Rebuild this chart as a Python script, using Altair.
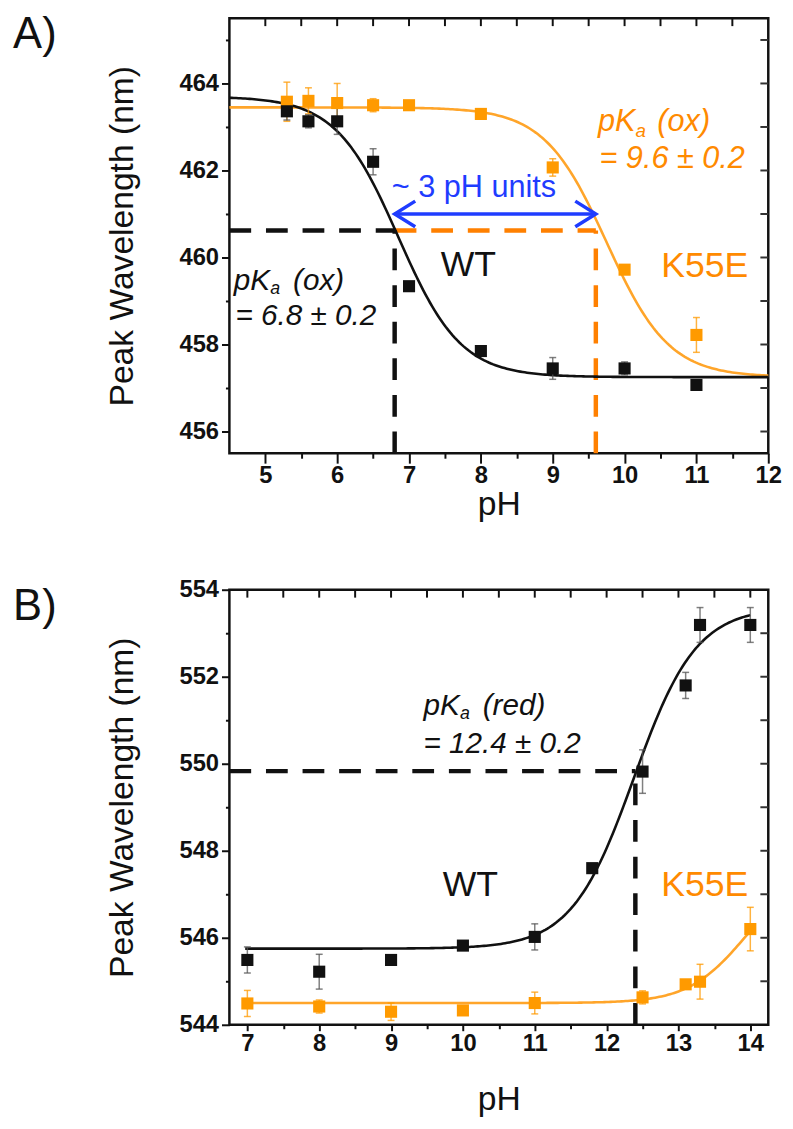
import altair as alt
import numpy as np
import pandas as pd

FONT = "Liberation Sans"
BLACK = "#111111"
ORANGE_PT = "#ff9a00"
ORANGE_LN = "#ffa52a"
ORANGE_TX = "#ff8a00"
ORANGE_DASH = "#ff8000"
BLUE = "#1f3cff"

W, H = 545, 440

# ---- Panel A: oxidised state ----
ox_ph = [5.3, 5.6, 6.0, 6.5, 7.0, 8.0, 9.0, 10.0, 11.0]
ox_wt = [463.36, 463.13, 463.13, 462.2, 459.34, 457.85, 457.45, 457.45, 457.07]
ox_wt_err = [0.2, 0.15, 0.3, 0.3, 0.1, 0.1, 0.25, 0.15, 0.1]
ox_k55e = [463.58, 463.6, 463.55, 463.5, 463.5, 463.3, 462.07, 459.72, 458.22]
ox_k55e_err = [0.45, 0.3, 0.45, 0.15, 0.1, 0.1, 0.2, 0.1, 0.4]

# Henderson-Hasselbalch fit parameters (low plateau, high plateau, midpoint, slope)
fit_ox_wt = (457.25, 463.7, 6.85, 1.0)
fit_ox_k55e = (457.25, 463.45, 9.75, 1.0)

pka_ox_wt = 6.8
pka_ox_k55e = 9.6
mid_ox = 460.62
arrow_y = 461.0

# ---- Panel B: reduced state ----
red_ph_wt = [7.0, 8.0, 9.0, 10.0, 11.0, 11.8, 12.5, 13.1, 13.3, 14.0]
red_wt = [545.49, 545.22, 545.49, 545.82, 546.02, 547.6, 549.82, 551.8, 553.19, 553.19]
red_wt_err = [0.3, 0.4, 0.1, 0.1, 0.3, 0.1, 0.5, 0.3, 0.4, 0.4]
red_ph_k55e = [7.0, 8.0, 9.0, 10.0, 11.0, 12.5, 13.1, 13.3, 14.0]
red_k55e = [544.49, 544.42, 544.3, 544.33, 544.5, 544.63, 544.93, 544.99, 546.2]
red_k55e_err = [0.3, 0.15, 0.2, 0.1, 0.25, 0.15, 0.1, 0.4, 0.5]

fit_red_wt = (545.75, 553.6, 12.38, 1.0)
fit_red_k55e = (544.5, 547.5, 13.92, 1.1)

pka_red_wt = 12.4
mid_red = 549.83


def hh_falling(ph, p):
    low, high, pka, n = p
    return low + (high - low) / (1 + 10 ** (n * (ph - pka)))


def hh_rising(ph, p):
    low, high, pka, n = p
    return low + (high - low) / (1 + 10 ** (n * (pka - ph)))


def x_axis(values, tick_major, tick_minor, label_pad, title_pad):
    return alt.Axis(
        values=values, title="pH", labelFlush=False, format="~g",
        labelExpr="datum.value % 1 === 0 ? datum.label : ''",
        tickSize={"condition": {"test": "datum.value % 1 === 0", "value": tick_major}, "value": tick_minor},
        labelPadding=label_pad, titlePadding=title_pad,
    )


def y_axis(values, title_pad):
    return alt.Axis(
        values=values, title="Peak Wavelength (nm)", labelFlush=False, format="d",
        labelExpr="datum.value % 2 === 0 ? datum.label : ''",
        tickSize={"condition": {"test": "datum.value % 2 === 0", "value": 8}, "value": 4},
        labelPadding=3, titlePadding=title_pad,
    )


def build_panel(xs, ys, xax, yax, curves, points, errs, dashes, texts, top_ticks, right_ticks, arrow=None):
    def X(field="x"):
        return alt.X(f"{field}:Q", scale=xs, axis=xax)

    def Y(field="y"):
        return alt.Y(f"{field}:Q", scale=ys, axis=yax)

    layers = []

    dash_df = pd.DataFrame(dashes, columns=["x", "x2", "y", "y2", "c"])
    layers.append(
        alt.Chart(dash_df).mark_rule(strokeWidth=4.5, strokeDash=[22, 15]).encode(
            x=X(), x2="x2:Q", y=Y(), y2="y2:Q", color=alt.Color("c:N", scale=None)
        )
    )

    curve_df = pd.concat(curves, ignore_index=True)
    layers.append(
        alt.Chart(curve_df).mark_line(strokeWidth=2.6).encode(
            x=X(), y=Y(), color=alt.Color("c:N", scale=None), detail="s:N"
        )
    )

    err_df = pd.concat(errs, ignore_index=True)
    err_df["lo"] = err_df["y"] - err_df["e"]
    err_df["hi"] = err_df["y"] + err_df["e"]
    layers.append(
        alt.Chart(err_df).mark_rule(strokeWidth=1.5, opacity=0.75).encode(
            x=X(), y=Y("lo"), y2="hi:Q", color=alt.Color("c:N", scale=None)
        )
    )
    cap_df = pd.concat(
        [err_df[["x", "c"]].assign(y=err_df["lo"]), err_df[["x", "c"]].assign(y=err_df["hi"])],
        ignore_index=True,
    )
    layers.append(
        alt.Chart(cap_df).mark_point(shape="M-1,0L1,0", size=49, filled=False, strokeWidth=1.5, opacity=0.75).encode(
            x=X(), y=Y(), color=alt.Color("c:N", scale=None)
        )
    )

    pt_df = pd.concat(points, ignore_index=True)
    layers.append(
        alt.Chart(pt_df).mark_square(size=150, opacity=1).encode(
            x=X(), y=Y(), color=alt.Color("c:N", scale=None)
        )
    )

    if arrow is not None:
        x0, x1, ay = arrow
        layers.append(
            alt.Chart(pd.DataFrame({"x": [x0], "x2": [x1], "y": [ay]})).mark_rule(
                strokeWidth=3.5, color=BLUE
            ).encode(x=X(), x2="x2:Q", y=Y())
        )
        layers.append(
            alt.Chart(pd.DataFrame({"x": [x0], "y": [ay]})).mark_point(
                shape="M1.6,-1L0,0L1.6,1", size=676, filled=False, strokeWidth=3.5,
                color=BLUE, opacity=1, strokeJoin="miter",
            ).encode(x=X(), y=Y())
        )
        layers.append(
            alt.Chart(pd.DataFrame({"x": [x1], "y": [ay]})).mark_point(
                shape="M-1.6,-1L0,0L-1.6,1", size=676, filled=False, strokeWidth=3.5,
                color=BLUE, opacity=1, strokeJoin="miter",
            ).encode(x=X(), y=Y())
        )

    # inward ticks on the top and right frame
    layers.append(
        alt.Chart(pd.DataFrame({"x": top_ticks})).mark_rule(strokeWidth=2, color=BLACK).encode(
            x=X(), y=alt.value(0), y2=alt.value(8)
        )
    )
    layers.append(
        alt.Chart(pd.DataFrame({"y": right_ticks})).mark_rule(strokeWidth=2, color="#333333").encode(
            y=Y(), x=alt.value(W), x2=alt.value(W - 8)
        )
    )

    for t in texts:
        tx, ty, s, color, size, style, dx, dy = t
        layers.append(
            alt.Chart(pd.DataFrame({"x": [tx], "y": [ty], "t": [s]})).mark_text(
                align="left", baseline="middle", font=FONT, fontSize=size, fontStyle=style,
                color=color, dx=dx, dy=dy,
            ).encode(x=X(), y=Y(), text="t:N")
        )

    return alt.layer(*layers).properties(width=W, height=H)


def curve_frame(ph, vals, color, name):
    return pd.DataFrame({"x": ph, "y": vals, "c": color, "s": name})


def pts(ph, vals, color):
    return pd.DataFrame({"x": ph, "y": vals, "c": color})


def errs(ph, vals, e, color):
    return pd.DataFrame({"x": ph, "y": vals, "e": e, "c": color})


# ---- Panel A ----
xsA = alt.Scale(domain=[4.5, 12], nice=False, zero=False)
ysA = alt.Scale(domain=[455.5, 465.5], nice=False, zero=False)
gridA = np.linspace(4.5, 12, 240)

panelA = build_panel(
    xsA, ysA,
    x_axis([v / 2 for v in range(10, 25)], 10, 5, 1, 0),
    y_axis(list(range(456, 466)), 40),
    curves=[
        curve_frame(gridA, hh_falling(gridA, fit_ox_k55e), ORANGE_LN, "k55e"),
        curve_frame(gridA, hh_falling(gridA, fit_ox_wt), BLACK, "wt"),
    ],
    points=[pts(ox_ph, ox_k55e, ORANGE_PT), pts(ox_ph, ox_wt, BLACK)],
    errs=[errs(ox_ph, ox_k55e, ox_k55e_err, "#ff9a00"), errs(ox_ph, ox_wt, ox_wt_err, "#555555")],
    dashes=[
        (4.5, pka_ox_wt, mid_ox, mid_ox, BLACK),
        (pka_ox_wt, pka_ox_k55e, mid_ox, mid_ox, ORANGE_DASH),
        (pka_ox_wt, pka_ox_wt, 455.5, mid_ox, BLACK),
        (pka_ox_k55e, pka_ox_k55e, 455.5, mid_ox, ORANGE_DASH),
    ],
    texts=[
        (1.49, 465.11, "A)", BLACK, 44, "normal", 0, 0),
        (6.76, 461.59, "~ 3 pH units", BLUE, 31, "normal", 0, 0),
        (9.63, 463.12, "pK", ORANGE_TX, 31, "italic", 0, 0),
        (9.63, 463.12, "a", ORANGE_TX, 19, "italic", 38, 9),
        (9.63, 463.12, "(ox)", ORANGE_TX, 31, "italic", 60, 0),
        (9.65, 462.27, "= 9.6 ± 0.2", ORANGE_TX, 31, "italic", 0, 0),
        (10.51, 459.81, "K55E", ORANGE_TX, 36, "normal", 0, 0),
        (7.44, 459.83, "WT", BLACK, 36, "normal", 0, 0),
        (4.56, 459.45, "pK", BLACK, 30, "italic", 0, 0),
        (4.56, 459.45, "a", BLACK, 18, "italic", 37, 8),
        (4.56, 459.45, "(ox)", BLACK, 30, "italic", 60, 0),
        (4.585, 458.66, "= 6.8 ± 0.2", BLACK, 30, "italic", 0, 0),
    ],
    top_ticks=[v / 2 for v in range(10, 24)],
    right_ticks=list(range(456, 466)),
    arrow=(pka_ox_wt, pka_ox_k55e, arrow_y),
)

# ---- Panel B ----
xsB = alt.Scale(domain=[6.75, 14.25], nice=False, zero=False)
ysB = alt.Scale(domain=[544, 554], nice=False, zero=False)
gridB = np.linspace(6.97, 14.0, 240)

panelB = build_panel(
    xsB, ysB,
    x_axis([v / 2 for v in range(14, 29)], 6, 4, 1, 28),
    y_axis(list(range(544, 555)), 40),
    curves=[
        curve_frame(gridB, hh_rising(gridB, fit_red_k55e), ORANGE_LN, "k55e"),
        curve_frame(gridB, hh_rising(gridB, fit_red_wt), BLACK, "wt"),
    ],
    points=[pts(red_ph_k55e, red_k55e, ORANGE_PT), pts(red_ph_wt, red_wt, BLACK)],
    errs=[
        errs(red_ph_k55e, red_k55e, red_k55e_err, "#ff9a00"),
        errs(red_ph_wt, red_wt, red_wt_err, "#555555"),
    ],
    dashes=[
        (6.75, pka_red_wt, mid_red, mid_red, BLACK),
        (pka_red_wt, pka_red_wt, 544, mid_red, BLACK),
    ],
    texts=[
        (3.74, 553.59, "B)", BLACK, 44, "normal", 0, 0),
        (9.45, 551.32, "pK", BLACK, 30, "italic", 0, 0),
        (9.45, 551.32, "a", BLACK, 18, "italic", 37, 8),
        (9.45, 551.32, "(red)", BLACK, 30, "italic", 60, 0),
        (9.45, 550.45, "= 12.4 ± 0.2", BLACK, 30, "italic", 0, 0),
        (9.72, 547.2, "WT", BLACK, 36, "normal", 0, 0),
        (12.76, 547.2, "K55E", ORANGE_TX, 36, "normal", 0, 0),
    ],
    top_ticks=[v / 2 for v in range(14, 29)],
    right_ticks=list(range(545, 554)),
)

chart = (
    alt.vconcat(panelA, panelB, spacing=53)
    .properties(padding={"left": 12, "top": 5, "right": 10, "bottom": 5}, background="white")
    .configure_view(stroke=BLACK, strokeWidth=2.5)
    .configure_axis(
        domain=False,
        grid=False,
        labelFont=FONT,
        labelFontSize=24,
        labelFontWeight="bold",
        labelColor=BLACK,
        tickColor=BLACK,
        tickWidth=2,
        titleFont=FONT,
        titleFontSize=34,
        titleFontWeight="normal",
        titleColor=BLACK,
    )
)

chart.save("out.html", embed_options={"renderer": "svg", "actions": False})
